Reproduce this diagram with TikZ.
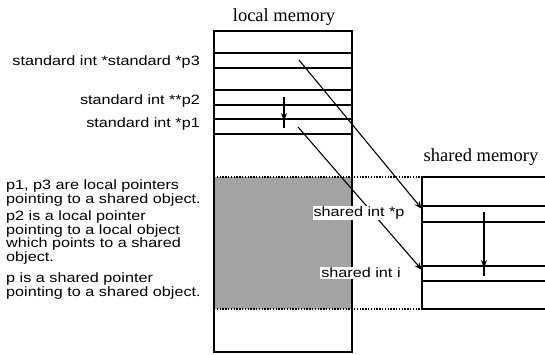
\documentclass[tikz,border=0pt]{standalone}
\usepackage{fontspec}
\setmainfont{Liberation Serif}
\newfontfamily\labfont[FakeStretch=1.2]{Liberation Sans}
\usetikzlibrary{arrows.meta}
\begin{document}
\begin{tikzpicture}[x=1pt,y=-1pt,
  lab/.style={font=\labfont\fontsize{13.5}{13.5}\selectfont, inner sep=0pt},
  labw/.style={lab, fill=white, inner sep=1pt},
  ttl/.style={font=\fontsize{18.5}{20}\selectfont, inner sep=0pt},
  box/.style={line width=1.1pt},
  cell/.style={line width=1.4pt},
  dots/.style={line width=1.1pt, dash pattern=on 1.4pt off 1.4pt},
  ptr/.style={line width=1.1pt, -{Stealth[length=8pt,width=6pt]}},
]
\useasboundingbox (0,0) rectangle (545,354);
% shaded shared part of local memory
\fill[black!36] (214,177) rectangle (352,309);
% local memory box
\draw[box] (214,31) rectangle (352,352);
\foreach \yy in {53,68,90,105,119,134} \draw[cell] (214,\yy) -- (352,\yy);
% shared memory box
\draw[box] (545,177) -- (422,177) -- (422,309) -- (545,309);
\foreach \yy in {206,222,266,281} \draw[cell] (422,\yy) -- (545,\yy);
% dotted boundaries
\draw[dots] (214,177) -- (422,177);
\draw[dots] (214,309) -- (422,309);
% titles
\node[ttl] (lm) at (284,17) {local memory};
\node[ttl] (sm) at (481,157) {shared memory};
% declarations
\node[lab, anchor=east] (l3) at (200,62) {standard int *standard *p3};
\node[lab, anchor=east] (l2) at (200,101) {standard int **p2};
\node[lab, anchor=east] (l1) at (200,124) {standard int *p1};
% descriptions
\node[lab, anchor=north west, align=left] (d1) at (6,180) {p1, p3 are local pointers\\pointing to a shared object.};
\node[lab, anchor=north west, align=left] (d2) at (6,211) {p2 is a local pointer\\pointing to a local object\\which points to a shared\\object.};
\node[lab, anchor=north west, align=left] (d3) at (6,273) {p is a shared pointer\\pointing to a shared object.};
% pointer coordinates
\coordinate (p3s) at (299,60);
\coordinate (pcell) at (422,209);
\coordinate (p1s) at (298,127);
\coordinate (icell) at (422,270);
\coordinate (p2s) at (284,97);
\coordinate (p2h) at (284,121);
\coordinate (p2e) at (284,128);
\coordinate (ps) at (484,212);
\coordinate (ph) at (484,268);
\coordinate (pe) at (484,276);
% pointers
\draw[ptr] (p3s) -- (pcell);
\draw[ptr] (p1s) -- (icell);
\draw[box] (p2s) -- (p2e);
\draw[ptr] (p2s) -- (p2h);
\draw[box] (ps) -- (pe);
\draw[ptr] (ps) -- (ph);
% shared labels (white background over lines)
\node[labw] (sp) at (359,213) {shared int *p};
\node[labw] (si) at (361,273) {shared int i};
\end{tikzpicture}
\end{document}
